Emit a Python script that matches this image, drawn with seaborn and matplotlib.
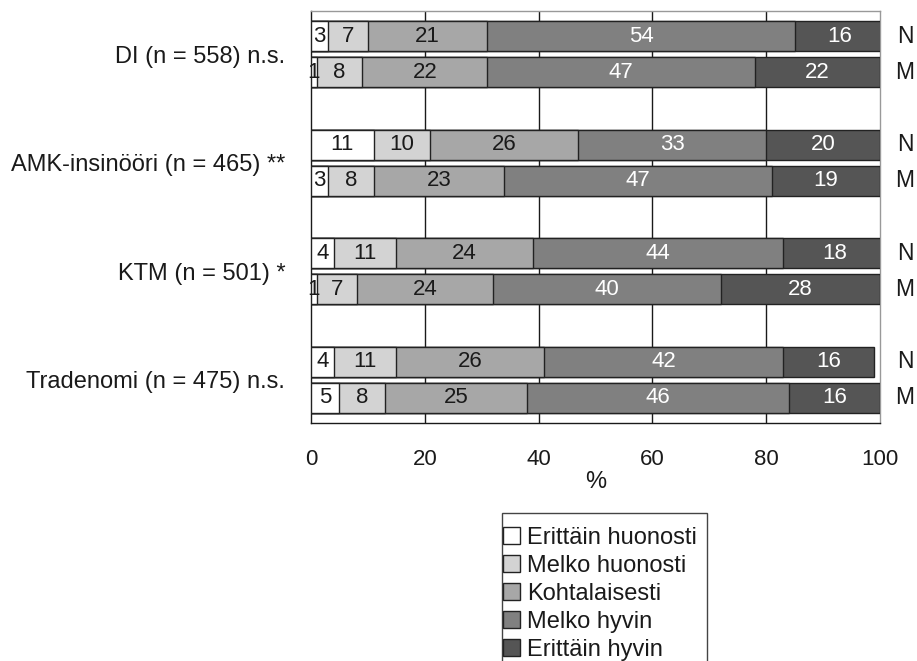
import numpy as np
import pandas as pd
import matplotlib
matplotlib.use("Agg")
import matplotlib.pyplot as plt
import seaborn as sns
from matplotlib.patches import Patch, Rectangle
import matplotlib.transforms as mtransforms

# Education groups, each with two survey rows (N and M)
groups = ["DI (n = 558) n.s.", "AMK-insinööri (n = 465) **",
          "KTM (n = 501) *", "Tradenomi (n = 475) n.s."]
rows = ["N", "M"]
levels = ["Erittäin huonosti", "Melko huonosti", "Kohtalaisesti",
          "Melko hyvin", "Erittäin hyvin"]

# Percentages per row, in order DI N, DI M, AMK N, AMK M, KTM N, KTM M, Trad N, Trad M
erittain_huonosti = [3, 1, 11, 3, 4, 1, 4, 5]
melko_huonosti = [7, 8, 10, 8, 11, 7, 11, 8]
kohtalaisesti = [21, 22, 26, 23, 24, 24, 26, 25]
melko_hyvin = [54, 47, 33, 47, 44, 40, 42, 46]
erittain_hyvin = [16, 22, 20, 19, 18, 28, 16, 16]

x_ticks = [0, 20, 40, 60, 80, 100]

series = [erittain_huonosti, melko_huonosti, kohtalaisesti, melko_hyvin, erittain_hyvin]
fills = ["#ffffff", "#d3d3d3", "#a7a7a7", "#808080", "#555555"]
text_cols = ["#1a1a1a", "#1a1a1a", "#1a1a1a", "#ffffff", "#ffffff"]

sns.set_style("white")
plt.rcParams["font.family"] = ["Liberation Sans", "DejaVu Sans"]

W, H = 917, 661
fig = plt.figure(figsize=(W / 100, H / 100), dpi=100)
ax = fig.add_axes([311 / W, 1 - 423 / H, 569 / W, 412 / H])

# bar positions: groups separated by an empty slot
pos = np.array([g * 3 + r for g in range(len(groups)) for r in range(len(rows))], dtype=float)

vals = np.array(series, dtype=float)
cum = np.cumsum(vals, axis=0)

# draw cumulative bars from the longest to the shortest so they stack visually
for k in range(len(levels) - 1, -1, -1):
    df = pd.DataFrame({"value": cum[k], "pos": pos})
    sns.barplot(data=df, x="value", y="pos", orient="h", native_scale=True,
                color=fills[k], saturation=1, width=0.83, errorbar=None,
                edgecolor="#222222", linewidth=1.0, ax=ax, zorder=3)

# segment labels
for k in range(len(levels)):
    for i, p in enumerate(pos):
        v = vals[k, i]
        ax.text(cum[k, i] - v / 2, p, f"{int(v)}", ha="center", va="center",
                fontsize=16, color=text_cols[k], zorder=5)

ax.set_xlim(0, 100)
ax.set_ylim(10.7, -0.7)

ax.set_xticks(x_ticks)
ax.set_xticklabels([str(t) for t in x_ticks], fontsize=16, color="#1a1a1a")
ax.tick_params(axis="x", direction="out", length=6, width=1, color="#222222", pad=13)

ax.set_yticks([g * 3 + 0.5 for g in range(len(groups))])
ax.set_yticklabels(groups, fontsize=17, color="#1a1a1a")
ax.set_yticks([-0.7, 1.5, 2.5, 4.5, 5.5, 7.5, 8.5, 10.7], minor=True)
ax.tick_params(axis="y", which="both", direction="out", length=6.5, width=1,
               color="#555555", pad=12)
ax.set_ylabel("")

ax.set_xlabel("%", fontsize=17, color="#1a1a1a")
ax.xaxis.set_label_coords(0.5, -0.143)
ax.xaxis.label.set_va("center")

ax.grid(False)
for x in x_ticks[1:-1]:
    ax.axvline(x, color="#1a1a1a", lw=1.0, zorder=1)

for side in ["left", "bottom"]:
    ax.spines[side].set_color("#1a1a1a")
    ax.spines[side].set_linewidth(1.0)
for side in ["top", "right"]:
    ax.spines[side].set_color("#999999")
    ax.spines[side].set_linewidth(1.0)
    ax.spines[side].set_visible(True)

# row markers on the right
trans = mtransforms.blended_transform_factory(ax.transAxes, ax.transData)
for p, i in zip(pos, range(len(pos))):
    ax.text(1.044, p, rows[i % 2], transform=trans, ha="center", va="center",
            fontsize=16.5, color="#1a1a1a", clip_on=False)

# legend with its frame drawn separately
handles = [Patch(facecolor=fills[k], edgecolor="#222222", linewidth=1.0, label=levels[k])
           for k in range(len(levels))]
fig.legend(handles=handles, loc="upper left",
           bbox_to_anchor=(503 / W, 1 - 527 / H), frameon=False,
           fontsize=17, handlelength=0.72, handleheight=0.72, handletextpad=0.3,
           labelspacing=0.25, borderpad=0, borderaxespad=0, labelcolor="#1a1a1a")
fig.patches.append(Rectangle((502 / W, 1 - 675 / H), 205 / W, 162 / H,
                             transform=fig.transFigure, fill=False,
                             edgecolor="#444444", linewidth=1.0))

fig.savefig("out.png", dpi=100)
